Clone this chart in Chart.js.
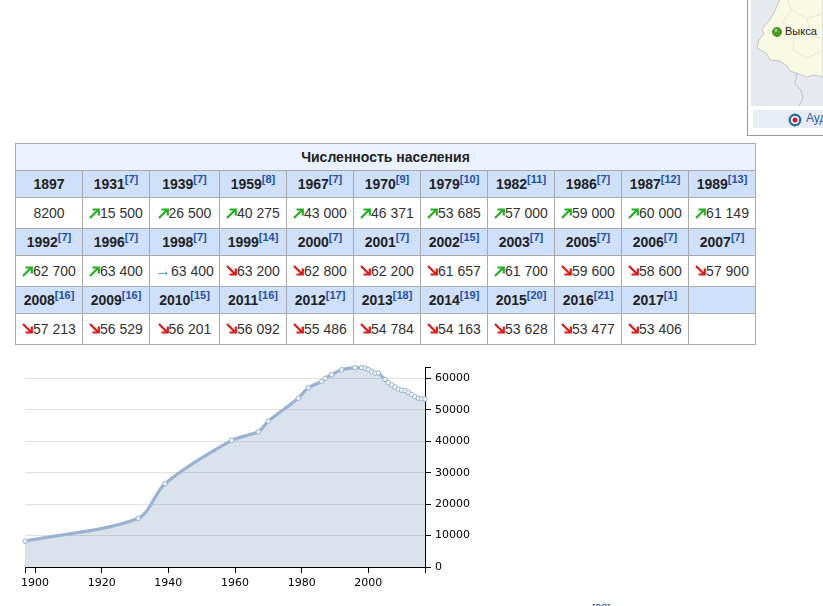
<!DOCTYPE html>
<html>
<head>
<meta charset="utf-8">
<title>Численность населения</title>
<script src="https://cdn.jsdelivr.net/npm/chart.js@4"></script>
<style>
  html, body { margin: 0; padding: 0; width: 823px; height: 606px; overflow: hidden; background: #fff; }
  body { position: relative; font-family: "Liberation Sans", Arial, sans-serif; color: #222; }
  #popTable { position: absolute; left: 15px; top: 143px; width: 741px; border-collapse: collapse; table-layout: fixed; font-size: 14px; }
  #popTable td, #popTable th { border: 1px solid #aaa; padding: 0; text-align: center; white-space: nowrap; }
  #popTable .title { background: #eaf2ff; height: 26px; font-size: 14px; }
  #popTable .year { background: #cfe0fb; height: 26px; font-size: 14px; }
  #popTable .val { height: 30px; color: #333; }
  #popTable .val svg { vertical-align: -1px; }
  sup { color: #1f4fa8; font-size: 11px; font-weight: bold; line-height: 0; }
  .flat { color: #3a9be8; font-size: 16px; line-height: 0; }
  #chartBox { position: absolute; left: 15px; top: 357px; }
  #map { position: absolute; left: 747px; top: -2px; }
  #cut { position: absolute; left: 592px; top: 602px; font-size: 11px; color: #1f4fa8; }
</style>
</head>
<body>

<svg id="map" width="76" height="139" xmlns="http://www.w3.org/2000/svg">
  <rect x="0.5" y="-2" width="90" height="139.5" fill="#fff" stroke="#999"/>
  <rect x="4" y="0" width="76" height="108" fill="#e6eaef"/>
  <path d="M33 0 L30 8 L27 15 L21 24 L15 31 L17 36 L12 42 L10 50 L14 52 L20 56 L23 62 L33 63 L40 68 L43 73 L52 76 L60 79 L66 77 L76 79 L76 0 Z" fill="#f9f9e4" stroke="#b4bfc0" stroke-width="0.8"/>
  <path d="M40 0 L44 12 L60 20 L76 16 M44 12 L36 24 L48 36 L46 52 L60 60 L76 52 M60 20 L64 38 L76 40" fill="none" stroke="#e3e3cf" stroke-width="0.8"/>
  <path d="M50 75 L48 86 L54 92 L56 100 L52 108" fill="none" stroke="#b4bfc0" stroke-width="0.9"/>
  <rect x="6" y="112" width="70" height="18" fill="#e8ecf4"/>
  <circle cx="30" cy="34" r="4.5" fill="#4a9e1e" stroke="#2c6410" stroke-width="0.7"/>
  <circle cx="29" cy="32.5" r="1.4" fill="#a6dc7e"/>
  <text x="38" y="37" font-family="Liberation Sans" font-size="11" fill="#222">Выкса</text>
  <circle cx="48" cy="122" r="6.5" fill="#2f6fa8"/>
  <circle cx="48" cy="122" r="4" fill="#fff"/>
  <circle cx="48" cy="122" r="2.5" fill="#c8202c"/>
  <text x="59" y="124" font-family="Liberation Sans" font-size="12" fill="#2a5fa8">Ауд</text>
</svg>

<table id="popTable"></table>

<div id="chartBox"><canvas id="popChart" width="470" height="235"></canvas></div>

<div id="cut">[22]</div>

<script>
// Vyksa population, years and values as listed in the table
const tableTitle = "Численность населения";
const years = [1897, 1931, 1939, 1959, 1967, 1970, 1979, 1982, 1986, 1987, 1989,
  1992, 1996, 1998, 1999, 2000, 2001, 2002, 2003, 2005, 2006, 2007,
  2008, 2009, 2010, 2011, 2012, 2013, 2014, 2015, 2016, 2017];
const refs = [null, 7, 7, 8, 7, 9, 10, 11, 7, 12, 13,
  7, 7, 7, 14, 7, 7, 15, 7, 7, 7, 7,
  16, 16, 15, 16, 17, 18, 19, 20, 21, 1];
const population = [8200, 15500, 26500, 40275, 43000, 46371, 53685, 57000, 59000, 60000, 61149,
  62700, 63400, 63400, 63200, 62800, 62200, 61657, 61700, 59600, 58600, 57900,
  57213, 56529, 56201, 56092, 55486, 54784, 54163, 53628, 53477, 53406];
const xTicks = [1897, 1900, 1920, 1940, 1960, 1980, 2000, 2017];
const xLabels = [1900, 1920, 1940, 1960, 1980, 2000];
const yTicks = [0, 10000, 20000, 30000, 40000, 50000, 60000, 63400];
const yLabels = [0, 10000, 20000, 30000, 40000, 50000, 60000];

const colWidths = [67, 67, 70, 67, 67, 67, 67, 67, 67, 67, 67];
const perRow = 11;

function fmt(n) {
  const s = String(n);
  if (n < 10000) return s;
  return s.slice(0, s.length - 3) + " " + s.slice(-3);
}

function arrow(i) {
  if (i === 0) return "";
  if (population[i] === population[i - 1]) return '<span class="flat">&#8594;</span>';
  const up = population[i] > population[i - 1];
  const color = up ? "#22b022" : "#e01818";
  const path = up ? "M1 11 L9 3 M3.5 2.5 H9.8 V8.5" : "M1 1 L9 9 M3.5 9.5 H9.8 V3.5";
  return `<svg width="11" height="12" viewBox="0 0 11 12"><path d="${path}" fill="none" stroke="${color}" stroke-width="2.2"/></svg>`;
}

function buildTable() {
  let html = "<colgroup>" + colWidths.map(w => `<col style="width:${w}px">`).join("") + "</colgroup>";
  html += `<tr><th class="title" colspan="${perRow}">${tableTitle}</th></tr>`;
  for (let start = 0; start < years.length; start += perRow) {
    let head = "", vals = "";
    for (let i = start; i < start + perRow; i++) {
      if (i < years.length) {
        const sup = refs[i] ? `<sup>[${refs[i]}]</sup>` : "";
        head += `<th class="year">${years[i]}${sup}</th>`;
        vals += `<td class="val">${arrow(i)}${fmt(population[i])}</td>`;
      } else {
        head += '<th class="year"></th>';
        vals += '<td class="val"></td>';
      }
    }
    html += `<tr>${head}</tr><tr>${vals}</tr>`;
  }
  document.getElementById("popTable").innerHTML = html;
}
buildTable();

const points = years.map((y, i) => ({ x: y, y: population[i] }));
const ctx = document.getElementById("popChart").getContext("2d");
new Chart(ctx, {
  type: "line",
  data: {
    datasets: [{
      data: points,
      borderColor: "#9ab3d0",
      borderWidth: 3.2,
      backgroundColor: "rgba(60, 105, 155, 0.19)",
      fill: "origin",
      tension: 0.3,
      pointRadius: 2.3,
      pointBorderWidth: 1,
      pointBackgroundColor: "#f4f7fa",
      pointBorderColor: "#9ab3d0",
      clip: false
    }]
  },
  options: {
    responsive: false,
    animation: false,
    layout: { padding: { left: 10, top: 10, right: 0, bottom: 0 } },
    plugins: { legend: { display: false }, tooltip: { enabled: false } },
    scales: {
      x: {
        type: "linear",
        position: "bottom",
        min: 1897,
        max: 2017,
        afterBuildTicks: axis => { axis.ticks = xTicks.map(v => ({ value: v })); },
        afterFit: axis => { axis.height = 25; },
        border: { color: "#000", width: 1 },
        grid: { drawOnChartArea: false, drawTicks: true, tickLength: 6, tickColor: "#000" },
        ticks: {
          autoSkip: false,
          maxRotation: 0,
          padding: 4,
          color: "#000",
          font: { family: "DejaVu Sans", size: 11 },
          callback: v => (xLabels.includes(v) ? String(v) : "")
        }
      },
      y: {
        position: "right",
        min: 0,
        max: 63400,
        afterBuildTicks: axis => { axis.ticks = yTicks.map(v => ({ value: v })); },
        afterFit: axis => { axis.width = 60; },
        border: { color: "#000", width: 1 },
        grid: {
          color: c => (c.tick && (c.tick.value === 0 || c.tick.value === 63400) ? "rgba(0,0,0,0)" : "#e2e2e2"),
          tickLength: 6,
          tickColor: "#000"
        },
        ticks: {
          padding: 4,
          color: "#000",
          font: { family: "DejaVu Sans", size: 11 },
          callback: v => (yLabels.includes(v) ? String(v) : "")
        }
      }
    }
  }
});
</script>
</body>
</html>
